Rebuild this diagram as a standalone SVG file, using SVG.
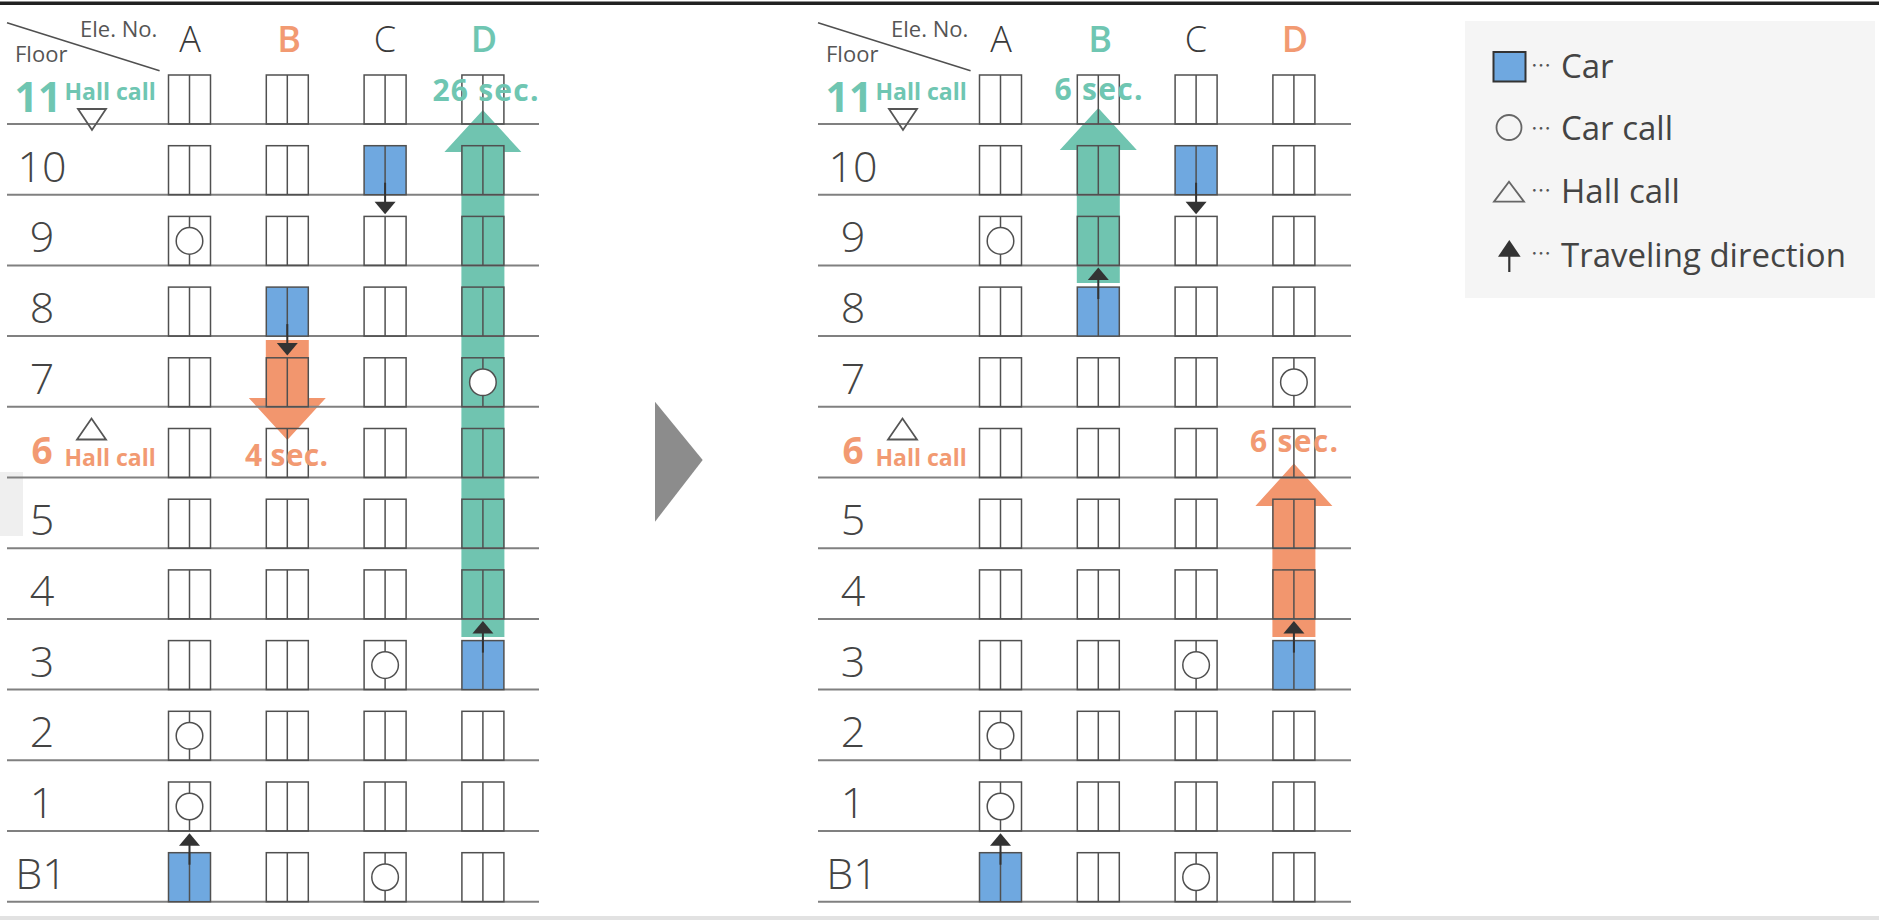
<svg xmlns="http://www.w3.org/2000/svg" xmlns:xlink="http://www.w3.org/1999/xlink" width="1879" height="920" viewBox="0 0 1879 920">
<style>
.fl{stroke:#808080;stroke-width:2}
.dr{stroke:#505050;stroke-width:1.5}
.dir{stroke:#333;stroke-width:2}
.flr{font-family:"Open Sans","Liberation Sans",sans-serif;font-weight:300;font-size:43px;fill:#444;text-anchor:middle}
.col{font-family:"Open Sans","Liberation Sans",sans-serif;font-weight:300;font-size:36px;fill:#3a3a3a;text-anchor:middle}
.colc{font-family:"Open Sans","Liberation Sans",sans-serif;font-weight:600;font-size:36px;text-anchor:middle}
.hdr{font-family:"Open Sans","Liberation Sans",sans-serif;font-weight:400;font-size:22px;fill:#555}
.teal{fill:#6FC6B2}
.org{fill:#F29A72}
.bign{font-family:"Open Sans","Liberation Sans",sans-serif;font-weight:700;text-anchor:middle}
.hall{font-family:"Open Sans","Liberation Sans",sans-serif;font-weight:700;font-size:23px}
.sec{font-family:"Open Sans","Liberation Sans",sans-serif;font-weight:700;font-size:30px;text-anchor:middle}
.leg{font-family:"Open Sans","Liberation Sans",sans-serif;font-weight:400;font-size:33px;fill:#444}
.dots{font-family:"Noto Sans CJK JP",sans-serif;font-size:20px;fill:#555}
.tri{fill:none;stroke:#555;stroke-width:1.8}
</style>
<defs>
<g id="door"><rect class="dr" x="-21" y="-49" width="42" height="49" fill="none"/><line class="dr" x1="0" y1="-49" x2="0" y2="0"/></g>
<g id="car"><rect class="dr" x="-21" y="-49" width="42" height="49" fill="#6FA8E0"/><line class="dr" x1="0" y1="-49" x2="0" y2="0"/></g>
<g id="call"><use href="#door"/><circle class="dr" cx="0" cy="-24.5" r="13.3" fill="#fff"/></g>
<g id="up"><line class="dir" x1="0" y1="-37" x2="0" y2="-57"/><polygon points="-10.5,-56 10.5,-56 0,-68.5" fill="#333"/></g>
<g id="down"><line class="dir" x1="0" y1="-12" x2="0" y2="8"/><polygon points="-10.5,7 10.5,7 0,19.5" fill="#333"/></g>
</defs>

<rect x="0" y="0" width="1879" height="920" fill="#fff"/>
<rect x="0" y="1.5" width="1879" height="3.5" fill="#222"/>
<rect x="0" y="472" width="23" height="64" fill="#efefef"/>
<rect x="0" y="916" width="1879" height="4" fill="#e2e2e2"/>

<!-- travel arrows (drawn under doors) -->
<g id="travel-arrows">
<polygon id="left-D-teal" fill="#70C4B0" points="461.4,637 461.4,152 444.4,152 482.9,110 521.4,152 504.4,152 504.4,637"/>
<polygon id="left-B-orange" fill="#F2966E" points="265.8,340 308.8,340 308.8,398 325.8,398 287.3,440 248.8,398 265.8,398"/>
<polygon id="right-B-teal" fill="#70C4B0" points="1076.8,283 1076.8,150 1059.8,150 1098.3,108 1136.8,150 1119.8,150 1119.8,283"/>
<polygon id="right-D-orange" fill="#F2966E" points="1272.4,637 1272.4,506 1255.4,506 1293.9,463.5 1332.4,506 1315.4,506 1315.4,637"/>
</g>

<!-- floor lines -->
<g id="floor-lines">
<line class="fl" x1="7" y1="124" x2="539" y2="124"/>
<line class="fl" x1="7" y1="194.7" x2="539" y2="194.7"/>
<line class="fl" x1="7" y1="265.4" x2="539" y2="265.4"/>
<line class="fl" x1="7" y1="336.1" x2="539" y2="336.1"/>
<line class="fl" x1="7" y1="406.8" x2="539" y2="406.8"/>
<line class="fl" x1="7" y1="477.5" x2="539" y2="477.5"/>
<line class="fl" x1="7" y1="548.2" x2="539" y2="548.2"/>
<line class="fl" x1="7" y1="618.9" x2="539" y2="618.9"/>
<line class="fl" x1="7" y1="689.6" x2="539" y2="689.6"/>
<line class="fl" x1="7" y1="760.3" x2="539" y2="760.3"/>
<line class="fl" x1="7" y1="831" x2="539" y2="831"/>
<line class="fl" x1="7" y1="901.7" x2="539" y2="901.7"/>
<line class="fl" x1="818" y1="124" x2="1351" y2="124"/>
<line class="fl" x1="818" y1="194.7" x2="1351" y2="194.7"/>
<line class="fl" x1="818" y1="265.4" x2="1351" y2="265.4"/>
<line class="fl" x1="818" y1="336.1" x2="1351" y2="336.1"/>
<line class="fl" x1="818" y1="406.8" x2="1351" y2="406.8"/>
<line class="fl" x1="818" y1="477.5" x2="1351" y2="477.5"/>
<line class="fl" x1="818" y1="548.2" x2="1351" y2="548.2"/>
<line class="fl" x1="818" y1="618.9" x2="1351" y2="618.9"/>
<line class="fl" x1="818" y1="689.6" x2="1351" y2="689.6"/>
<line class="fl" x1="818" y1="760.3" x2="1351" y2="760.3"/>
<line class="fl" x1="818" y1="831" x2="1351" y2="831"/>
<line class="fl" x1="818" y1="901.7" x2="1351" y2="901.7"/>
</g>

<!-- LEFT PANEL -->
<g id="left-header">
<line class="dr" x1="7" y1="22.7" x2="159.6" y2="70.7"/>
<text class="hdr" x="80" y="37">Ele. No.</text>
<text class="hdr" x="15" y="62">Floor</text>
<text class="col" x="190" y="52">A</text>
<text class="colc org" x="289" y="52">B</text>
<text class="col" x="385" y="52">C</text>
<text class="colc teal" x="484" y="52">D</text>
</g>
<g id="left-floor-labels">
<text class="bign teal" x="38" y="112" font-size="41">11</text>
<text class="hall teal" x="64.5" y="100">Hall call</text>
<polygon class="tri" points="78,109 106,109 92,130"/>
<text class="flr" x="42" y="181.7">10</text>
<text class="flr" x="42" y="252.4">9</text>
<text class="flr" x="42" y="323.1">8</text>
<text class="flr" x="42" y="393.8">7</text>
<polygon class="tri" points="77,439.5 106,439.5 91.5,418.5"/>
<text class="bign org" x="42" y="464" font-size="37">6</text>
<text class="hall org" x="64.5" y="466">Hall call</text>
<text class="flr" x="42" y="535.2">5</text>
<text class="flr" x="42" y="605.9">4</text>
<text class="flr" x="42" y="676.6">3</text>
<text class="flr" x="42" y="747.3">2</text>
<text class="flr" x="42" y="818">1</text>
<text class="flr" x="41" y="888.7">B1</text>
</g>
<g id="left-elevators">
<g id="left-f11"><use href="#door" x="189.5" y="124"/><use href="#door" x="287.3" y="124"/><use href="#door" x="385.1" y="124"/><use href="#door" x="482.9" y="124"/></g>
<g id="left-f10"><use href="#door" x="189.5" y="194.7"/><use href="#door" x="287.3" y="194.7"/><use href="#car" x="385.1" y="194.7"/><use href="#door" x="482.9" y="194.7"/></g>
<g id="left-f9"><use href="#call" x="189.5" y="265.4"/><use href="#door" x="287.3" y="265.4"/><use href="#door" x="385.1" y="265.4"/><use href="#door" x="482.9" y="265.4"/></g>
<g id="left-f8"><use href="#door" x="189.5" y="336.1"/><use href="#car" x="287.3" y="336.1"/><use href="#door" x="385.1" y="336.1"/><use href="#door" x="482.9" y="336.1"/></g>
<g id="left-f7"><use href="#door" x="189.5" y="406.8"/><use href="#door" x="287.3" y="406.8"/><use href="#door" x="385.1" y="406.8"/><use href="#call" x="482.9" y="406.8"/></g>
<g id="left-f6"><use href="#door" x="189.5" y="477.5"/><use href="#door" x="287.3" y="477.5"/><use href="#door" x="385.1" y="477.5"/><use href="#door" x="482.9" y="477.5"/></g>
<g id="left-f5"><use href="#door" x="189.5" y="548.2"/><use href="#door" x="287.3" y="548.2"/><use href="#door" x="385.1" y="548.2"/><use href="#door" x="482.9" y="548.2"/></g>
<g id="left-f4"><use href="#door" x="189.5" y="618.9"/><use href="#door" x="287.3" y="618.9"/><use href="#door" x="385.1" y="618.9"/><use href="#door" x="482.9" y="618.9"/></g>
<g id="left-f3"><use href="#door" x="189.5" y="689.6"/><use href="#door" x="287.3" y="689.6"/><use href="#call" x="385.1" y="689.6"/><use href="#car" x="482.9" y="689.6"/></g>
<g id="left-f2"><use href="#call" x="189.5" y="760.3"/><use href="#door" x="287.3" y="760.3"/><use href="#door" x="385.1" y="760.3"/><use href="#door" x="482.9" y="760.3"/></g>
<g id="left-f1"><use href="#call" x="189.5" y="831"/><use href="#door" x="287.3" y="831"/><use href="#door" x="385.1" y="831"/><use href="#door" x="482.9" y="831"/></g>
<g id="left-fB1"><use href="#car" x="189.5" y="901.7"/><use href="#door" x="287.3" y="901.7"/><use href="#call" x="385.1" y="901.7"/><use href="#door" x="482.9" y="901.7"/></g>
</g>

<!-- RIGHT PANEL -->
<g id="right-header">
<line class="dr" x1="818" y1="22.7" x2="970.6" y2="70.7"/>
<text class="hdr" x="891" y="37">Ele. No.</text>
<text class="hdr" x="826" y="62">Floor</text>
<text class="col" x="1001" y="52">A</text>
<text class="colc teal" x="1100" y="52">B</text>
<text class="col" x="1196" y="52">C</text>
<text class="colc org" x="1295" y="52">D</text>
</g>
<g id="right-floor-labels">
<text class="bign teal" x="849" y="112" font-size="41">11</text>
<text class="hall teal" x="875.5" y="100">Hall call</text>
<polygon class="tri" points="889,109 917,109 903,130"/>
<text class="flr" x="853" y="181.7">10</text>
<text class="flr" x="853" y="252.4">9</text>
<text class="flr" x="853" y="323.1">8</text>
<text class="flr" x="853" y="393.8">7</text>
<polygon class="tri" points="888,439.5 917,439.5 902.5,418.5"/>
<text class="bign org" x="853" y="464" font-size="37">6</text>
<text class="hall org" x="875.5" y="466">Hall call</text>
<text class="flr" x="853" y="535.2">5</text>
<text class="flr" x="853" y="605.9">4</text>
<text class="flr" x="853" y="676.6">3</text>
<text class="flr" x="853" y="747.3">2</text>
<text class="flr" x="853" y="818">1</text>
<text class="flr" x="852" y="888.7">B1</text>
</g>
<g id="right-elevators">
<g id="right-f11"><use href="#door" x="1000.5" y="124"/><use href="#door" x="1098.3" y="124"/><use href="#door" x="1196.1" y="124"/><use href="#door" x="1293.9" y="124"/></g>
<g id="right-f10"><use href="#door" x="1000.5" y="194.7"/><use href="#door" x="1098.3" y="194.7"/><use href="#car" x="1196.1" y="194.7"/><use href="#door" x="1293.9" y="194.7"/></g>
<g id="right-f9"><use href="#call" x="1000.5" y="265.4"/><use href="#door" x="1098.3" y="265.4"/><use href="#door" x="1196.1" y="265.4"/><use href="#door" x="1293.9" y="265.4"/></g>
<g id="right-f8"><use href="#door" x="1000.5" y="336.1"/><use href="#car" x="1098.3" y="336.1"/><use href="#door" x="1196.1" y="336.1"/><use href="#door" x="1293.9" y="336.1"/></g>
<g id="right-f7"><use href="#door" x="1000.5" y="406.8"/><use href="#door" x="1098.3" y="406.8"/><use href="#door" x="1196.1" y="406.8"/><use href="#call" x="1293.9" y="406.8"/></g>
<g id="right-f6"><use href="#door" x="1000.5" y="477.5"/><use href="#door" x="1098.3" y="477.5"/><use href="#door" x="1196.1" y="477.5"/><use href="#door" x="1293.9" y="477.5"/></g>
<g id="right-f5"><use href="#door" x="1000.5" y="548.2"/><use href="#door" x="1098.3" y="548.2"/><use href="#door" x="1196.1" y="548.2"/><use href="#door" x="1293.9" y="548.2"/></g>
<g id="right-f4"><use href="#door" x="1000.5" y="618.9"/><use href="#door" x="1098.3" y="618.9"/><use href="#door" x="1196.1" y="618.9"/><use href="#door" x="1293.9" y="618.9"/></g>
<g id="right-f3"><use href="#door" x="1000.5" y="689.6"/><use href="#door" x="1098.3" y="689.6"/><use href="#call" x="1196.1" y="689.6"/><use href="#car" x="1293.9" y="689.6"/></g>
<g id="right-f2"><use href="#call" x="1000.5" y="760.3"/><use href="#door" x="1098.3" y="760.3"/><use href="#door" x="1196.1" y="760.3"/><use href="#door" x="1293.9" y="760.3"/></g>
<g id="right-f1"><use href="#call" x="1000.5" y="831"/><use href="#door" x="1098.3" y="831"/><use href="#door" x="1196.1" y="831"/><use href="#door" x="1293.9" y="831"/></g>
<g id="right-fB1"><use href="#car" x="1000.5" y="901.7"/><use href="#door" x="1098.3" y="901.7"/><use href="#call" x="1196.1" y="901.7"/><use href="#door" x="1293.9" y="901.7"/></g>
</g>

<!-- direction arrows on cars -->
<g id="direction-arrows">
<use href="#down" x="385.1" y="194.7"/>
<use href="#down" x="287.3" y="336.1"/>
<use href="#up" x="482.9" y="689.6"/>
<use href="#up" x="189.5" y="901.7"/>
<use href="#down" x="1196.1" y="194.7"/>
<use href="#up" x="1098.3" y="336.1"/>
<use href="#up" x="1293.9" y="689.6"/>
<use href="#up" x="1000.5" y="901.7"/>
</g>

<!-- time labels -->
<g id="time-labels">
<text class="sec teal" x="485.5" y="101" textLength="106">26 sec.</text>
<text class="sec org" x="286.5" y="466" textLength="83">4 sec.</text>
<text class="sec teal" x="1098.5" y="100" textLength="88">6 sec.</text>
<text class="sec org" x="1294" y="452" textLength="88">6 sec.</text>
</g>

<!-- transition marker -->
<polygon id="next-arrow" points="655,401.7 655,521.7 702.7,460" fill="#8c8c8c"/>

<!-- legend -->
<g id="legend">
<rect x="1465" y="21" width="410" height="277" fill="#f5f5f5"/>
<rect x="1493.5" y="52" width="32" height="29.5" fill="#6FA8E0" stroke="#333" stroke-width="2"/>
<text x="1531" y="72.6" class="dots">…</text>
<text x="1561" y="78.3" class="leg">Car</text>
<circle cx="1509" cy="127.5" r="12.5" fill="none" stroke="#666" stroke-width="1.8"/>
<text x="1531" y="135.6" class="dots">…</text>
<text x="1561" y="140" class="leg">Car call</text>
<polygon points="1494,201.7 1524,201.7 1509,181.7" fill="none" stroke="#666" stroke-width="1.8"/>
<text x="1531" y="197.6" class="dots">…</text>
<text x="1561" y="202.7" class="leg">Hall call</text>
<line x1="1509.3" y1="254" x2="1509.3" y2="272" stroke="#333" stroke-width="2.2"/>
<polygon points="1498,256.7 1520.6,256.7 1509.3,240" fill="#333"/>
<text x="1531" y="260.9" class="dots">…</text>
<text x="1561" y="266.7" class="leg">Traveling direction</text>
</g>
</svg>
